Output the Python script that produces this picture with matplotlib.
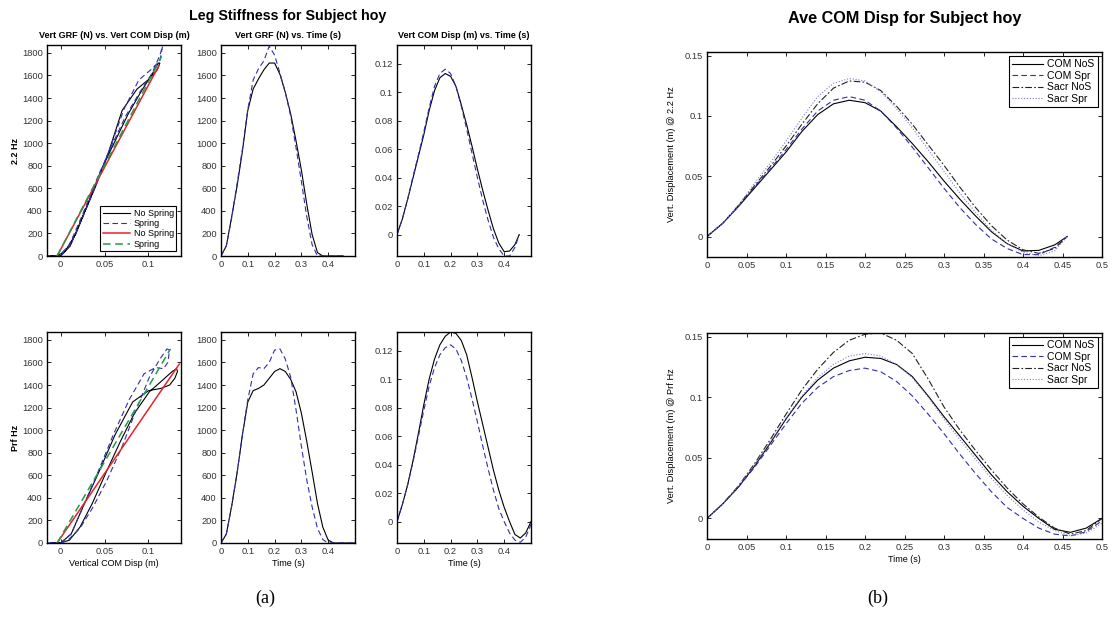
import matplotlib
matplotlib.use("Agg")
import matplotlib.pyplot as plt
from matplotlib.ticker import FuncFormatter

plt.rcParams["font.family"] = ["Liberation Sans", "DejaVu Sans"]
plt.rcParams["font.size"] = 6.5

# ---- data ----
# 2.2 Hz trial, common time grid (s)
t_22 = [0, .02, .04, .06, .08, .10, .12, .14, .16, .18, .20, .22, .24, .26,
        .28, .30, .32, .34, .36, .38, .40, .42, .44, .456]
com_nos_22 = [0, .011, .025, .040, .055, .070, .087, .101, .110, .113, .111, .104,
              .091, .077, .062, .046, .031, .017, .004, -.006, -.012, -.0115, -.007, 0]
com_spr_22 = [0, .011, .025, .041, .056, .072, .089, .104, .113, .116, .113, .104,
              .090, .074, .057, .040, .024, .010, -.002, -.010, -.015, -.015, -.009, 0]
sacr_nos_22 = [0, .011, .026, .042, .058, .075, .093, .110, .123, .129, .128, .121,
               .108, .093, .076, .059, .041, .024, .009, -.003, -.011, -.014, -.010, 0]
sacr_spr_22 = [0, .011, .026, .044, .061, .079, .098, .116, .127, .131, .129, .120,
               .106, .090, .072, .054, .036, .020, .005, -.006, -.013, -.016, -.012, 0]
grf_nos_22 = [0, 90, 350, 620, 930, 1290, 1480, 1570, 1650, 1710, 1710, 1610,
              1450, 1260, 1020, 760, 460, 190, 30, 0, 0, 0, 0, 0]
grf_spr_22 = [0, 90, 340, 640, 950, 1300, 1560, 1660, 1730, 1860, 1780, 1620,
              1450, 1240, 960, 660, 350, 100, 0, 0, 0, 0, 0, 0]

# preferred frequency trial
t_prf = [0, .02, .04, .06, .08, .10, .12, .14, .16, .18, .20, .22, .24, .26,
         .28, .30, .32, .34, .36, .38, .40, .42, .44, .46, .48, .50]
com_nos_prf = [0, .012, .026, .043, .062, .082, .100, .114, .124, .130, .133, .132,
               .127, .117, .101, .084, .068, .052, .036, .022, .010, .000, -.009,
               -.0115, -.008, 0]
com_spr_prf = [0, .012, .026, .042, .060, .078, .095, .108, .117, .122, .124, .121,
               .113, .101, .086, .070, .053, .037, .022, .009, .000, -.008, -.013,
               -.0145, -.011, -.002]
sacr_nos_prf = [0, .012, .027, .045, .065, .086, .106, .123, .137, .147, .152, .153,
                .147, .136, .115, .092, .073, .056, .040, .025, .012, .001, -.008,
                -.013, -.010, 0]
sacr_spr_prf = [0, .012, .027, .044, .063, .083, .101, .116, .127, .134, .136, .134,
                .127, .116, .100, .082, .065, .049, .033, .019, .007, -.003, -.010,
                -.0145, -.012, -.004]
grf_nos_prf = [0, 80, 330, 620, 960, 1250, 1350, 1370, 1400, 1460, 1520, 1545, 1520,
               1450, 1340, 1150, 900, 630, 350, 140, 25, 0, 0, 0, 0, 0]
grf_spr_prf = [0, 80, 330, 620, 960, 1270, 1500, 1555, 1545, 1600, 1710, 1720, 1630,
               1470, 1180, 855, 560, 320, 130, 30, 0, 0, 0, 0, 0, 0]

# linear stiffness fits (disp m, force N)
fit_nos_22 = ([-0.004, 0.112], [0, 1690])
fit_spr_22 = ([-0.004, 0.115], [0, 1770])
fit_nos_prf = ([-0.004, 0.135], [0, 1585])
fit_spr_prf = ([-0.004, 0.125], [0, 1720])

BLUE = "#2f2fb0"
LBLUE = "#7a7ad0"
GREEN = "#1f9e4a"
RED = "#e8222a"
DASH = (5, 3)
DASHDOT = (6, 2, 1.5, 2)
DOT = (1, 1.6)

W, H = 1113, 618
fig = plt.figure(figsize=(W / 100, H / 100), dpi=100)


def px_axes(l, t, r, b):
    return fig.add_axes([l / W, 1 - b / H, (r - l) / W, (b - t) / H])


fmt = FuncFormatter(lambda v, p: "%g" % round(v, 4))


def style(ax):
    ax.tick_params(direction="in", top=True, right=True, length=3, width=0.6,
                   labelsize=6.7, pad=3, labelcolor="#333333")
    for s in ax.spines.values():
        s.set_linewidth(1.0)
    ax.xaxis.set_major_formatter(fmt)
    ax.yaxis.set_major_formatter(fmt)


rows = [
    (45, 256, t_22, com_nos_22, com_spr_22, grf_nos_22, grf_spr_22, fit_nos_22, fit_spr_22, "2.2 Hz"),
    (332, 543, t_prf, com_nos_prf, com_spr_prf, grf_nos_prf, grf_spr_prf, fit_nos_prf, fit_spr_prf, "Prf Hz"),
]
lw = 0.8
for i, (top, bot, t, cn, cs, gn, gs, fn, fs, lab) in enumerate(rows):
    a1 = px_axes(47, top, 181, bot)
    a1.plot(cn, gn, color="black", lw=lw, label="No Spring")
    a1.plot(cs, gs, color=BLUE, lw=lw, dashes=DASH, label="Spring")
    a1.plot(fn[0], fn[1], color=RED, lw=1.1, label="No Spring")
    a1.plot(fs[0], fs[1], color=GREEN, lw=1.1, dashes=DASH, label="Spring")
    a1.set_xlim(-0.0155, 0.137)
    a1.set_ylim(0, 1870)
    a1.set_xticks([0, 0.05, 0.1])
    a1.set_yticks(range(0, 1801, 200))
    a1.set_ylabel(lab, fontweight="bold", labelpad=1)
    style(a1)

    a2 = px_axes(221, top, 355, bot)
    a2.plot(t, gn, color="black", lw=lw)
    a2.plot(t, gs, color=BLUE, lw=lw, dashes=DASH)
    a2.set_xlim(0, 0.5)
    a2.set_ylim(0, 1870)
    a2.set_xticks([0, 0.1, 0.2, 0.3, 0.4])
    a2.set_yticks(range(0, 1801, 200))
    style(a2)

    a3 = px_axes(397, top, 531, bot)
    a3.plot(t, cn, color="black", lw=lw)
    a3.plot(t, cs, color=BLUE, lw=lw, dashes=DASH)
    a3.set_xlim(0, 0.5)
    a3.set_ylim(-0.015, 0.133)
    a3.set_xticks([0, 0.1, 0.2, 0.3, 0.4])
    a3.set_yticks([0, 0.02, 0.04, 0.06, 0.08, 0.1, 0.12])
    style(a3)

    if i == 0:
        a1.set_title("Vert GRF (N) vs. Vert COM Disp (m)", fontweight="bold", fontsize=6.5, pad=5)
        a2.set_title("Vert GRF (N) vs. Time (s)", fontweight="bold", fontsize=6.5, pad=5)
        a3.set_title("Vert COM Disp (m) vs. Time (s)", fontweight="bold", fontsize=6.5, pad=5)
        leg = a1.legend(loc="lower right", fontsize=6.5, handlelength=3.0,
                        fancybox=False, edgecolor="black", framealpha=1,
                        borderpad=0.3, labelspacing=0.15, handletextpad=0.4,
                        borderaxespad=0.5)
        leg.get_frame().set_linewidth(0.8)
    else:
        a1.set_xlabel("Vertical COM Disp (m)", labelpad=2)
        a2.set_xlabel("Time (s)", labelpad=2)
        a3.set_xlabel("Time (s)", labelpad=2)

# right panel
right = [
    (52, 257, t_22, com_nos_22, com_spr_22, sacr_nos_22, sacr_spr_22, "Vert. Displacement (m) @ 2.2 Hz"),
    (333, 539, t_prf, com_nos_prf, com_spr_prf, sacr_nos_prf, sacr_spr_prf, "Vert. Displacement (m) @ Prf Hz"),
]
for i, (top, bot, t, cn, cs, sn, ss, lab) in enumerate(right):
    ax = px_axes(707, top, 1102, bot)
    ax.plot(t, cn, color="black", lw=lw, label="COM NoS")
    ax.plot(t, cs, color=BLUE, lw=lw, dashes=DASH, label="COM Spr")
    ax.plot(t, sn, color="#222222", lw=lw, dashes=DASHDOT, label="Sacr NoS")
    ax.plot(t, ss, color=LBLUE, lw=lw, dashes=DOT, label="Sacr Spr")
    ax.set_xlim(0, 0.5)
    ax.set_ylim(-0.017, 0.153)
    ax.set_xticks([0, .05, .1, .15, .2, .25, .3, .35, .4, .45, .5])
    ax.set_yticks([0, 0.05, 0.1, 0.15])
    ax.set_ylabel(lab, fontsize=6.7, labelpad=6)
    style(ax)
    leg = ax.legend(loc="upper right", fontsize=7.5, handlelength=3.0,
                    fancybox=False, edgecolor="black", framealpha=1,
                    borderpad=0.3, labelspacing=0.15, handletextpad=0.4,
                    borderaxespad=0.4)
    leg.get_frame().set_linewidth(0.8)
    if i == 1:
        ax.set_xlabel("Time (s)", labelpad=2)

fig.text(288 / W, 1 - 16 / H, "Leg Stiffness for Subject hoy", ha="center", va="center",
         fontsize=10.3, fontweight="bold")
fig.text(905 / W, 1 - 18 / H, "Ave COM Disp for Subject hoy", ha="center", va="center",
         fontsize=11.7, fontweight="bold")
fig.text(265 / W, 1 - 598 / H, "(a)", ha="center", va="center", fontsize=13,
         family="Liberation Serif")
fig.text(878 / W, 1 - 598 / H, "(b)", ha="center", va="center", fontsize=13,
         family="Liberation Serif")

fig.savefig("out.png", dpi=100)
